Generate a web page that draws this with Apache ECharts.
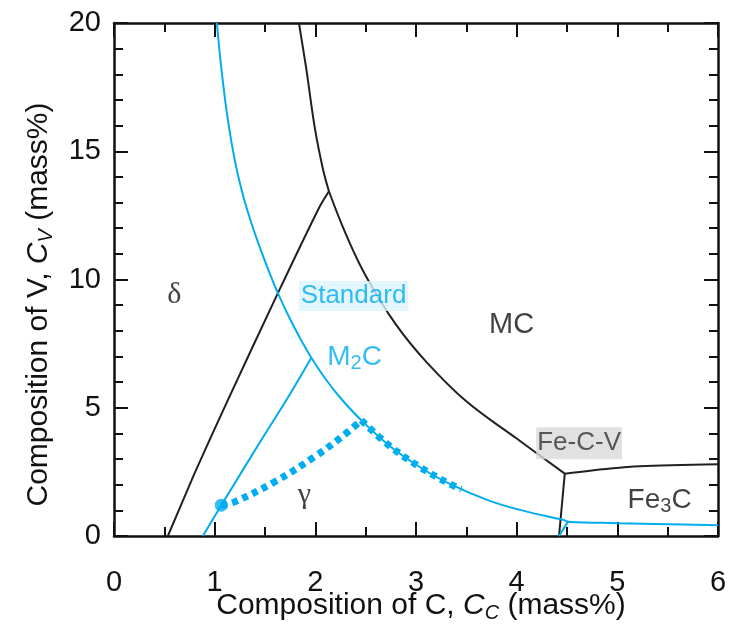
<!DOCTYPE html>
<html><head><meta charset="utf-8">
<script src="https://cdn.jsdelivr.net/npm/echarts@6/dist/echarts.min.js"></script>
<style>html,body{margin:0;padding:0;background:#fff}#c{width:729px;height:626px}</style>
</head><body><div id="c"></div>
<script>
// ---- data (mass% C, mass% V) ----
const xTicks = [0, 1, 2, 3, 4, 5, 6];
const yTicks = [0, 5, 10, 15, 20];

const mcUpper = [[1.837,20],[1.911,18.19],[1.993,15.95],[2.076,14.3],[2.135,13.44]];
const mcLower = [[2.135,13.44],[2.3,11.8],[2.5,10.15],[2.8,8.25],[3.1,6.8],[3.5,5.25],[4.0,3.8],[4.478,2.43]];
const deltaLine = [[0.535,0],[0.80,2.44],[1.131,5.3],[1.628,9.47],[2.036,12.79],[2.135,13.44]];
const fe3cTop = [[4.478,2.43],[4.93,2.63],[5.22,2.72],[6.0,2.8]];
const fe3cLeft = [[4.421,0],[4.478,2.43]];

const standardCurve = [[1.022,20],[1.07,18.1],[1.13,16.25],[1.2,14.65],[1.27,13.45],[1.35,12.38],[1.446,11.28],[1.54,10.31],[1.628,9.47],[1.75,8.45],[1.877,7.51],[1.96,6.95],[2.1,6.13],[2.25,5.38],[2.457,4.51],[2.739,3.51],[3.037,2.69],[3.335,2.03],[3.733,1.37],[4.1,0.95],[4.46,0.63],[4.51,0.56],[5.0,0.5],[5.5,0.46],[6.0,0.42]];
const standardFoot = [[4.421,0],[4.51,0.56]];
const m2cBoundary = [[0.883,0],[1.066,1.2],[1.463,3.74],[1.728,5.4],[1.960,6.95]];
const pathA = [[1.066,1.2],[1.198,1.33],[1.595,2.11],[1.993,3.09],[2.258,3.85],[2.457,4.51]];
const pathB = [[2.457,4.51],[2.739,3.51],[3.037,2.69],[3.335,2.03],[3.451,1.83]];
const startPoint = [[1.066,1.2]];

const phaseNames = ['δ','γ','MC','Fe3C'];
const phaseX = [0.6, 1.89, 3.95, 5.42];
const phaseY = [9.4, 1.59, 8.23, 1.39];
const curveNames = ['Standard','M2C','Fe-C-V'];
const curveX = [2.38, 2.39, 4.62];
const curveY = [9.36, 6.97, 3.62];

const BLUE = '#00adef';
const BLACK = '#231f20';
const SANS = '"Liberation Sans", Arial, Helvetica, sans-serif';
const SERIF = '"Liberation Serif", "Times New Roman", serif';

function lineSeries(data, color, width, smooth, extra) {
  return Object.assign({
    type: 'line', data: data, symbol: 'none', smooth: smooth, animation: false,
    lineStyle: {color: color, width: width}, z: 3
  }, extra || {});
}

const labelStyles = {
  'δ': {formatter: 'δ', fontFamily: SERIF, fontSize: 30, color: '#111'},
  'γ': {formatter: 'γ', fontFamily: SERIF, fontSize: 30, color: '#111'},
  'MC': {formatter: 'MC', fontFamily: SANS, fontSize: 29, color: '#111'},
  'Fe3C': {formatter: 'Fe{s|3}C', fontFamily: SANS, fontSize: 28, color: '#111',
           rich: {s: {fontSize: 20, fontFamily: SANS, color: '#111', padding: [13,0,0,0]}}},
  'Standard': {formatter: 'Standard', fontFamily: SANS, fontSize: 26, color: BLUE,
               backgroundColor: '#dcf3fc', padding: [3,2,1,2]},
  'M2C': {formatter: 'M{s|2}C', fontFamily: SANS, fontSize: 28, color: BLUE,
          rich: {s: {fontSize: 20, fontFamily: SANS, color: BLUE, padding: [13,0,0,0]}}},
  'Fe-C-V': {formatter: 'Fe-C-V', fontFamily: SANS, fontSize: 26, color: '#333',
             backgroundColor: '#d9d9d9', padding: [4,1,2,1]}
};

const labelData = [];
phaseNames.forEach((n,i) => labelData.push({name: n, value: [phaseX[i], phaseY[i]]}));
curveNames.forEach((n,i) => labelData.push({name: n, value: [curveX[i], curveY[i]]}));

const labelSeries = {
  type: 'scatter', symbolSize: 0, animation: false, z: 10, silent: true,
  data: labelData.map(d => ({
    name: d.name, value: d.value,
    label: Object.assign({show: true, position: 'inside', align: 'center', verticalAlign: 'middle'}, labelStyles[d.name])
  }))
};

const axisCommon = {
  min: 0, axisLine: {show: true, onZero: false, lineStyle: {color: '#111', width: 2.5}},
  axisTick: {show: true, inside: true, length: 14, lineStyle: {color: '#111', width: 2}},
  minorTick: {show: true, length: 9, lineStyle: {color: '#111', width: 2}},
  splitLine: {show: false}
};

const xName = '{t|Composition of C, }{i|C}{s|C}{t| (mass%)}';
const yName = '{t|Composition of V, }{i|C}{s|V}{t| (mass%)}';
const nameRich = {
  t: {fontFamily: SANS, fontSize: 30, color: '#111'},
  i: {fontFamily: SANS, fontSize: 30, color: '#111', fontStyle: 'italic'},
  s: {fontFamily: SANS, fontSize: 20, color: '#111', fontStyle: 'italic', padding: [14,0,0,0]}
};

const option = {
  backgroundColor: '#fff',
  animation: false,
  grid: {left: 114, right: 11, top: 23, bottom: 90, containLabel: false, outerBoundsMode: 'none'},
  xAxis: [
    Object.assign({}, axisCommon, {
      type: 'value', position: 'bottom', max: 6, interval: 1,
      minorTick: Object.assign({}, axisCommon.minorTick, {splitNumber: 2}),
      axisLabel: {fontFamily: SANS, fontSize: 29, color: '#111', margin: 32,
                  formatter: v => xTicks.includes(v) ? String(v) : ''},
      name: xName, nameLocation: 'middle', nameGap: 53, nameMoveOverlap: false,
      nameTextStyle: {rich: nameRich, padding: [0,0,0,10]}
    }),
    Object.assign({}, axisCommon, {
      type: 'value', position: 'top', max: 6, interval: 1,
      minorTick: Object.assign({}, axisCommon.minorTick, {splitNumber: 2}),
      axisLabel: {show: false}
    })
  ],
  yAxis: [
    Object.assign({}, axisCommon, {
      type: 'value', position: 'left', max: 20, interval: 5,
      minorTick: Object.assign({}, axisCommon.minorTick, {splitNumber: 5}),
      axisLabel: {fontFamily: SANS, fontSize: 29, color: '#111', margin: 13,
                  formatter: v => yTicks.includes(v) ? String(v) : ''},
      name: yName, nameLocation: 'middle', nameGap: 58, nameRotate: 90, nameMoveOverlap: false,
      nameTextStyle: {rich: nameRich, padding: [0,50,0,0]}
    }),
    Object.assign({}, axisCommon, {
      type: 'value', position: 'right', max: 20, interval: 5,
      minorTick: Object.assign({}, axisCommon.minorTick, {splitNumber: 5}),
      axisLabel: {show: false}
    })
  ],
  series: [
    lineSeries(mcUpper, BLACK, 2, 0.3),
    lineSeries(mcLower, BLACK, 2, 0.4),
    lineSeries(deltaLine, BLACK, 2, 0.2),
    lineSeries(fe3cTop, BLACK, 2, 0.3),
    lineSeries(fe3cLeft, BLACK, 2, false),
    lineSeries(standardCurve, BLUE, 2, 0.4),
    lineSeries(standardFoot, BLUE, 2, false),
    lineSeries(m2cBoundary, BLUE, 2, 0.3),
    lineSeries(pathA, BLUE, 7, 0.4, {lineStyle: {color: BLUE, width: 7, type: [6,5], cap: 'butt'}}),
    lineSeries(pathB, BLUE, 7, 0.4, {lineStyle: {color: BLUE, width: 7, type: [6,5], cap: 'butt'}}),
    {type: 'scatter', data: startPoint, symbol: 'circle', symbolSize: 13, itemStyle: {color: BLUE}, z: 5, animation: false},
    labelSeries
  ]
};

const chart = echarts.init(document.getElementById('c'), null, {renderer: 'canvas'});
chart.setOption(option);
</script></body></html>
